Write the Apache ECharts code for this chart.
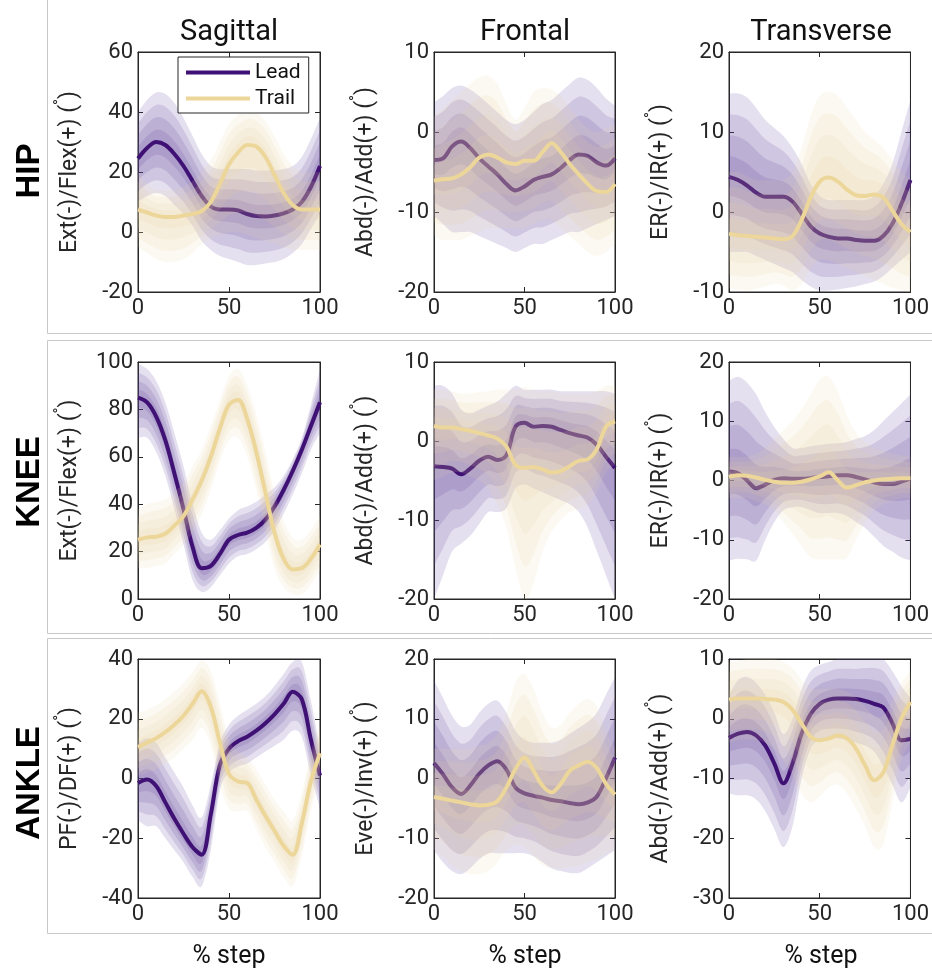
<!DOCTYPE html>
<html><head><meta charset="utf-8">
<script src="https://cdn.jsdelivr.net/npm/echarts@6/dist/echarts.min.js"></script>
<style>html,body{margin:0;padding:0;background:#fff}#c{width:932px;height:973px}</style>
</head><body><div id="c"></div>
<script>
// ---------------- DATA ----------------
const X = [0,5,10,15,20,25,30,35,40,45,50,55,60,65,70,75,80,85,90,95,100];
const rowNames = ['HIP','KNEE','ANKLE'];
const colNames = ['Sagittal','Frontal','Transverse'];
const xName = '% step';
const seriesNames = ['Lead','Trail'];
const yNames = ['Ext(-)/Flex(+)','Abd(-)/Add(+)','ER(-)/IR(+)',
                'Ext(-)/Flex(+)','Abd(-)/Add(+)','ER(-)/IR(+)',
                'PF(-)/DF(+)','Eve(-)/Inv(+)','Abd(-)/Add(+)'];
const yMins = [-20,-20,-10, 0,-20,-20, -40,-20,-30];
const yMaxs = [60,10,20, 100,10,20, 40,20,10];
const yIntervals = [20,10,10, 20,10,10, 20,10,10];
const xTicks = {min:0, max:100, interval:50};

// HIP sagittal
const hipSagLeadMean = [24.5,28,30,29,26,22,17,12,8.5,7.5,7.5,7.2,6,5.3,5.2,5.5,6.2,7.5,10,15,22];
const hipSagLeadHi   = [40,44,46.5,46,43,38,32,26,22,21,21,21,21,20.5,20.5,20.5,21,22,25,31,38];
const hipSagLeadLo   = [10,12,13,12,9,6,2,-3,-6,-8,-9,-10,-11,-11,-10.5,-10,-9,-7,-4,1,6];
const hipSagTrailMean= [7.5,6.5,5.5,5,5,5.5,6,7,10,16,22.5,26.5,29,28.5,25,19,13,9,7.5,7.5,7.5];
const hipSagTrailHi  = [20,16,14,14,14,15,17,20,24,30,36,39,40.5,40,37,32,26,22,20,20,20];
const hipSagTrailLo  = [-5,-7,-9,-10,-10,-9,-7,-4,-2,-1,0,0,-1,-2,-3,-4,-5,-6,-6,-6,-6];
// HIP frontal
const hipFroLeadMean = [-3.5,-3.3,-1.8,-1.2,-2,-3.3,-4.3,-5.3,-6.5,-7.3,-6.8,-6,-5.6,-5.3,-4.5,-3.5,-2.8,-3,-3.8,-4.2,-3.3];
const hipFroLeadHi   = [3.7,4.5,5.5,5.8,5.3,4.5,3.5,2.5,1.5,1,1.5,2.5,3.5,4,5,6,6.8,6.5,5.5,4.2,3.3];
const hipFroLeadLo   = [-10.5,-11.5,-12.5,-12.5,-12.5,-13,-13.5,-14,-14.5,-15,-14.5,-14,-14,-13.5,-13,-12.5,-12.5,-12,-11.5,-11,-10.5];
const hipFroTrailMean= [-6.1,-5.9,-5.8,-5.3,-4.4,-3.2,-2.8,-3.2,-3.8,-4,-3.6,-3.6,-2.5,-1.4,-2.5,-4,-5.3,-6.5,-7.4,-7.5,-6.5];
const hipFroTrailHi  = [2,3,4,5,6,6.8,7,6,3.5,1.5,3,5,5.5,5.3,4.5,3,1.5,0.5,0,0.5,1];
const hipFroTrailLo  = [-13,-13.5,-13.5,-13.5,-13,-12.5,-12,-12,-12,-12,-12,-11.5,-11,-11,-12,-13,-14,-15,-15.5,-15,-14];
// HIP transverse
const hipTraLeadMean = [4.4,4,3.3,2.4,1.9,1.9,1.9,1.3,-0.2,-1.8,-2.7,-3.1,-3.3,-3.3,-3.5,-3.6,-3.6,-3,-1.5,1,4];
const hipTraLeadHi   = [14.8,14.8,14.3,13,11.5,10.5,9.5,8,6,3.5,2,1.5,1.5,1.5,1.5,1.5,2,3.5,6,10,14];
const hipTraLeadLo   = [-5,-5,-5,-5.5,-6,-6.5,-7,-7.5,-8.5,-9.3,-9.8,-9.8,-9.7,-9.5,-9.3,-9,-8.7,-8,-7,-6,-5];
const hipTraTrailMean= [-2.7,-2.9,-3,-3.1,-3.2,-3.3,-3.4,-3,-1,1.8,3.8,4.3,3.8,2.8,2.1,2,2.2,1.8,0.2,-1.5,-2.5];
const hipTraTrailHi  = [5,5,4.5,4,4,4,4,5,8,12,14.5,15,14.5,13,11.5,10,9,8,6.5,5,4];
const hipTraTrailLo  = [-9.5,-9.7,-9.8,-9.6,-9.3,-9,-9.2,-9.8,-9,-7,-6,-6,-6.5,-7,-7.5,-8,-8.5,-9,-9.5,-9.8,-10];
// KNEE sagittal
const kneSagLeadMean = [85,83,77,67,53,38,22,13,14,19,25,27,28,30,33.5,39,46,54,63,73,83];
const kneSagLeadHi   = [99,97,92,83,70,56,40,28,25,29,34,37.5,39,41,44,47,52,59,68,82,97];
const kneSagLeadLo   = [68,68,62,52,38,23,8,3,5,10,15,18,19,21,24,29,36,44,53,63,70];
const kneSagTrailMean= [25,26,26.3,27.5,31,35,42,50,60,72,82,84,76,62,45,28,17,12.5,13,17,23];
const kneSagTrailHi  = [38,40,41,42,45,49,56,63,73,84,94,97,90,78,62,45,33,26,25,29,35];
const kneSagTrailLo  = [13,13,14,15,19,23,28,36,46,58,67,68,60,46,29,13,5,2,2,6,12];
// KNEE frontal
const kneFroLeadMean = [-3.2,-3.3,-3.5,-4.2,-3.5,-2.5,-2,-2.4,-1.8,1.8,2.3,1.8,1.9,1.8,1.4,1,0.7,0.4,-0.5,-2,-3.4];
const kneFroLeadHi   = [7,7,6,4,3.5,4,4.5,5,6,7,6.5,6.5,6.5,6.5,6.3,6.3,6.3,6.3,6.3,6.3,6];
const kneFroLeadLo   = [-20,-17,-14,-13,-12,-10.5,-9,-9,-8.5,-6,-5.5,-6,-6.5,-7,-7.5,-8,-9,-11,-14,-17,-20];
const kneFroTrailMean= [1.9,1.7,1.7,1.5,1.3,1,0.7,0.3,-0.7,-3,-3.4,-3.3,-3.6,-4,-3.8,-3.2,-2.5,-2.3,-1,1.8,2.5];
const kneFroTrailHi  = [6.5,6.5,6.3,6,6,6.2,6.3,6.5,6.5,6.5,6.8,6.5,6.3,6.3,6,6,6,6,6.3,7,7];
const kneFroTrailLo  = [-5,-4.5,-4,-4,-4.5,-5,-6,-8,-11,-16,-20,-18,-14,-11.5,-10,-9,-8.5,-8,-6.5,-4,-3];
// KNEE transverse
const kneTraLeadMean = [1.5,1.2,0,-1.3,-0.7,0.1,0.4,0.3,0.3,0.4,0.6,0.7,0.9,0.9,0.6,0.2,-0.3,-0.6,-0.6,-0.2,0.3];
const kneTraLeadHi   = [16.8,17.5,16.5,14.5,11.5,9,7,5.5,5.5,5.8,6,6.2,6.3,6.5,7,7.5,8.5,10,11.5,13,14.5];
const kneTraLeadLo   = [-13.5,-13.2,-13.3,-13.5,-10,-7,-5,-4.5,-4.5,-5,-5.5,-5.5,-5.5,-6,-7,-8,-9.5,-11,-12,-13,-13.5];
const kneTraTrailMean= [0.6,0.9,0.8,0.5,0.1,-0.2,-0.4,-0.4,-0.2,0.2,0.7,1.4,0,-1.2,-0.8,-0.3,0,0.2,0.3,0.4,0.4];
const kneTraTrailHi  = [4,4,4,4.5,5.5,7,8.5,10,12,14.5,17,17.5,15,11,8,6.5,5.5,5,4.5,4.2,4];
const kneTraTrailLo  = [-3,-3,-3,-3.5,-4,-5,-7,-9,-11,-13,-13.3,-13.3,-13.3,-13,-10,-7,-5,-4,-3.5,-3,-3];
// ANKLE sagittal
const ankSagLeadMean = [-1.5,-0.3,-2.5,-8,-13.5,-18.5,-23,-25.5,-12,4.5,10,12.5,14,16,18.5,21.5,25,29,26.5,13,1];
const ankSagLeadHi   = [12,13.5,12,7,2,-3,-9,-13,-2,12,18,21,23,25,27.5,31,35,39,39,26,10];
const ankSagLeadLo   = [-14,-16,-16,-20,-24,-28,-33,-36,-24,-4,2,4,5,7,9,11,13,16,14,1,-10];
const ankSagTrailMean= [10.5,12,13.5,15.5,18,21,25,29.2,24,12,1.5,-1,-1.5,-7,-12.5,-17.5,-22.5,-25.5,-15,-1,8.5];
const ankSagTrailHi  = [22,23,24.5,26.5,29,32,35.5,39.5,36,25,13,9,7,3,-2,-7,-11,-14,-5,9,18];
const ankSagTrailLo  = [1,2,3,5,7,10,13,17,11,-2,-10,-11,-11,-17,-23,-28,-33,-36,-26,-11,0];
// ANKLE frontal
const ankFroLeadMean = [2.6,0.7,-1.5,-2.6,-1.2,0.8,2.2,2.9,1.5,-1.5,-2.5,-2.9,-3.2,-3.6,-3.8,-4.1,-4.3,-4,-3,0,3.5];
const ankFroLeadHi   = [16.5,13.5,10.5,8.7,9,11,12.5,13,11,8,6.5,6,6,6,6.5,7.5,8.5,9.5,11,14,17];
const ankFroLeadLo   = [-12,-14,-15.5,-16,-15,-13.5,-12.5,-12.5,-12.5,-12.5,-12.5,-13,-14,-15,-15.5,-15.8,-15.8,-15,-14,-13,-12];
const ankFroTrailMean= [-3.1,-3.4,-3.7,-4,-4.3,-4.5,-4.4,-3.8,-1.5,1.6,3.5,1.3,-1.2,-2.3,-0.9,1.3,2.2,2.8,1.7,-0.9,-2.7];
const ankFroTrailHi  = [5,5,5,5,5,5.5,6,7.5,11,16,17.5,15,11,8.5,9,11,12.5,13.3,12,8,5];
const ankFroTrailLo  = [-12,-13,-14.5,-15.5,-16,-16,-15.5,-14,-12,-11,-11.5,-13,-14.5,-15,-15,-14.8,-14.5,-14,-13.5,-12.5,-12];
// ANKLE transverse
const ankTraLeadMean = [-3.2,-2.5,-2.2,-2.8,-4.5,-7.5,-10.8,-7.5,-2.5,0.8,2.5,3.2,3.4,3.4,3.3,3,2.5,1.9,-0.7,-3.6,-3.4];
const ankTraLeadHi   = [4,6.5,7,6,4,1,-2.5,0,5,8,9,9.5,10,10,10,10.3,10.5,10,8,5.5,3.5];
const ankTraLeadLo   = [-12.5,-12.8,-12.8,-13.5,-15.5,-18.5,-21.5,-18,-10,-5,-3.5,-3.3,-3.3,-3.5,-4,-4.5,-5.5,-8,-11,-14,-11.5];
const ankTraTrailMean= [3.2,3.4,3.4,3.4,3.3,3.2,2.8,1.5,-0.8,-3,-3.6,-3.3,-2.8,-3.3,-5,-7.8,-10.3,-9,-4.5,0,2.8];
const ankTraTrailHi  = [9.5,9.7,10,10,10,10,9.5,8.5,6.5,5,5,5,5,4.5,3.5,2,0.5,0.5,3,6,8];
const ankTraTrailLo  = [-4,-3.5,-3.5,-3.5,-4,-5,-7,-9.5,-12.5,-14,-13,-11.5,-11,-12.5,-15,-18,-21.5,-21,-14,-7,-4];

const panelData = [
  [[hipSagLeadMean,hipSagLeadHi,hipSagLeadLo],[hipSagTrailMean,hipSagTrailHi,hipSagTrailLo]],
  [[hipFroLeadMean,hipFroLeadHi,hipFroLeadLo],[hipFroTrailMean,hipFroTrailHi,hipFroTrailLo]],
  [[hipTraLeadMean,hipTraLeadHi,hipTraLeadLo],[hipTraTrailMean,hipTraTrailHi,hipTraTrailLo]],
  [[kneSagLeadMean,kneSagLeadHi,kneSagLeadLo],[kneSagTrailMean,kneSagTrailHi,kneSagTrailLo]],
  [[kneFroLeadMean,kneFroLeadHi,kneFroLeadLo],[kneFroTrailMean,kneFroTrailHi,kneFroTrailLo]],
  [[kneTraLeadMean,kneTraLeadHi,kneTraLeadLo],[kneTraTrailMean,kneTraTrailHi,kneTraTrailLo]],
  [[ankSagLeadMean,ankSagLeadHi,ankSagLeadLo],[ankSagTrailMean,ankSagTrailHi,ankSagTrailLo]],
  [[ankFroLeadMean,ankFroLeadHi,ankFroLeadLo],[ankFroTrailMean,ankFroTrailHi,ankFroTrailLo]],
  [[ankTraLeadMean,ankTraLeadHi,ankTraLeadLo],[ankTraTrailMean,ankTraTrailHi,ankTraTrailLo]]
];

// ---------------- STYLE / LAYOUT ----------------
const FONT = 'Roboto, "Open Sans", sans-serif';
const AX = '#262626';
const lineColors = ['#3f1174', '#ecd69a'];
const bandColors = ['rgba(95,65,155,0.16)', 'rgba(236,214,160,0.14)'];
const LEVELS = [1, 0.75, 0.5, 0.25];   // band levels drawn as fraction of outer spread
const colLeft = [138, 434, 729], colW = [182, 181, 183];
const rowTop = [52, 362, 659], rowH = [240, 237, 239];

function crPath(pts) {
  let d = '';
  for (let i = 0; i < pts.length - 1; i++) {
    const p0 = pts[Math.max(i - 1, 0)], p1 = pts[i], p2 = pts[i + 1], p3 = pts[Math.min(i + 2, pts.length - 1)];
    const t = 1 / 6;
    const c1 = [p1[0] + (p2[0] - p0[0]) * t, p1[1] + (p2[1] - p0[1]) * t];
    const c2 = [p2[0] - (p3[0] - p1[0]) * t, p2[1] - (p3[1] - p1[1]) * t];
    d += ' C' + c1[0] + ',' + c1[1] + ' ' + c2[0] + ',' + c2[1] + ' ' + p2[0] + ',' + p2[1];
  }
  return d;
}

function bandSeries(k, mean, hi, lo, f, color, z) {
  return {
    type: 'custom', xAxisIndex: 2 * k, yAxisIndex: 2 * k, z: z, silent: true, clip: true,
    data: [[0, 0]],
    renderItem: function (params, api) {
      const up = X.map((x, i) => api.coord([x, mean[i] + f * (hi[i] - mean[i])]));
      const dn = X.map((x, i) => api.coord([x, mean[i] + f * (lo[i] - mean[i])])).reverse();
      const d = 'M' + up[0][0] + ',' + up[0][1] + crPath(up) +
                ' L' + dn[0][0] + ',' + dn[0][1] + crPath(dn) + ' Z';
      return { type: 'path', shape: { pathData: d }, style: { fill: color } };
    }
  };
}

const grids = [], xAxes = [], yAxes = [], series = [];
for (let r = 0; r < 3; r++) {
  for (let c = 0; c < 3; c++) {
    const k = r * 3 + c;
    grids.push({ left: colLeft[c], top: rowTop[r], width: colW[c], height: rowH[r],
      show: true, borderColor: AX, borderWidth: 1, backgroundColor: 'transparent' });
    const tick = { inside: true, length: 5, lineStyle: { color: AX } };
    const line = { show: true, onZero: false, lineStyle: { color: AX } };
    xAxes.push({ gridIndex: k, type: 'value', min: xTicks.min, max: xTicks.max, interval: xTicks.interval,
      axisLine: line, axisTick: tick, splitLine: { show: false },
      axisLabel: { fontSize: 22, color: AX, margin: 5, fontFamily: FONT } });
    xAxes.push({ gridIndex: k, type: 'value', position: 'top', min: xTicks.min, max: xTicks.max, interval: xTicks.interval,
      axisLine: line, axisTick: tick, splitLine: { show: false },
      axisLabel: { show: false } });
    yAxes.push({ gridIndex: k, type: 'value', min: yMins[k], max: yMaxs[k], interval: yIntervals[k],
      axisLine: line, axisTick: tick, splitLine: { show: false },
      axisLabel: { fontSize: 22, color: AX, margin: 5, fontFamily: FONT },
      name: yNames[k] + ' ({d|°})', nameLocation: 'middle', nameGap: 51,
      nameTextStyle: { fontSize: 23, color: AX, fontFamily: FONT,
        rich: { d: { fontSize: 16, color: AX, fontFamily: FONT, padding: [0, 0, 18, 0] } } } });
    yAxes.push({ gridIndex: k, type: 'value', position: 'right', min: yMins[k], max: yMaxs[k], interval: yIntervals[k],
      axisLine: line, axisTick: tick, splitLine: { show: false },
      axisLabel: { show: false } });

    const pd = panelData[k];
    for (let s = 0; s < 2; s++) {
      const [mean, hi, lo] = pd[s];
      LEVELS.forEach(f => series.push(bandSeries(k, mean, hi, lo, f, bandColors[s], s === 0 ? 1 : 3)));
      series.push({ type: 'line', name: seriesNames[s], xAxisIndex: 2 * k, yAxisIndex: 2 * k,
        data: X.map((x, i) => [x, mean[i]]), smooth: 0.35, symbol: 'none', silent: true,
        lineStyle: { width: 4, color: lineColors[s] }, itemStyle: { color: lineColors[s] },
        z: s === 0 ? 2 : 4 });
    }
  }
}

const graphic = [];
// row frames
const frames = [[47, -5, 900, 338], [47, 340, 900, 293], [47, 638, 900, 295]];
frames.forEach(b => graphic.push({ type: 'rect', shape: { x: b[0] + 0.5, y: b[1] + 0.5, width: b[2], height: b[3] },
  style: { fill: 'none', stroke: '#c8c8c8', lineWidth: 1 }, z: -10, silent: true }));
const colCenters = [229, 525, 821];
colNames.forEach((t, i) => graphic.push({ type: 'text', x: colCenters[i], y: 33, silent: true,
  style: { text: t, fontSize: 29, fontFamily: FONT, fill: '#111', textAlign: 'center', textVerticalAlign: 'middle' } }));
colCenters.forEach(cx => graphic.push({ type: 'text', x: cx, y: 957, silent: true,
  style: { text: xName, fontSize: 25, fontFamily: FONT, fill: '#111', textAlign: 'center', textVerticalAlign: 'middle' } }));
const rowCenters = [171, 482, 783];
rowNames.forEach((t, i) => graphic.push({ type: 'text', x: 30, y: rowCenters[i], rotation: Math.PI / 2, silent: true,
  style: { text: t, fontSize: 33, fontWeight: 'bold', fontFamily: '"Liberation Sans", Arial, sans-serif', fill: '#000',
    textAlign: 'center', textVerticalAlign: 'middle' } }));

const chart = echarts.init(document.getElementById('c'));
chart.setOption({
  animation: false,
  backgroundColor: '#fff',
  grid: grids, xAxis: xAxes, yAxis: yAxes, series: series, graphic: graphic,
  legend: { data: seriesNames.map(n => ({ name: n, icon: 'rect' })), orient: 'vertical', left: 178, top: 57,
    itemWidth: 64, itemHeight: 4, itemGap: 5, padding: [5, 8, 4, 8], borderColor: AX, borderWidth: 1,
    backgroundColor: '#fff', z: 20,
    textStyle: { fontSize: 21, color: '#111', fontFamily: FONT, padding: [0, 0, 0, 0] } }
});
</script></body></html>
